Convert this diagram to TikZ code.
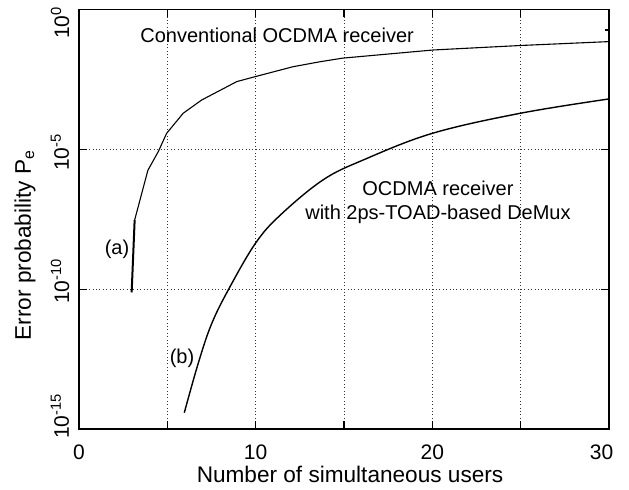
\documentclass[tikz,border=0pt]{standalone}
\usepackage{fontspec}
\setmainfont{Liberation Sans}
\usetikzlibrary{positioning}

\begin{document}
\begin{tikzpicture}[x=8.833pt, y=13.983pt,
  gridline/.style={line width=0.5pt, dash pattern=on 0.5pt off 1.2pt, black!80},
  axisline/.style={line width=0.6pt},
  ticklabel/.style={font=\fontsize{10.5}{12}\selectfont, inner sep=0pt},
  axislabel/.style={font=\fontsize{11.3}{13}\selectfont, inner sep=0pt},
  curvelabel/.style={font=\fontsize{10}{12}\selectfont, inner sep=0pt, align=center},
  curve/.style={line width=0.55pt, line join=round}]
  \useasboundingbox (-4.4716,-2.181) rectangle (31.132,15.338);

  % Grid (log10 of P_e shifted by 15)
  \foreach \gx in {5,10,...,25}
    \draw[gridline] (\gx,0) -- (\gx,15);
  \foreach \gy in {5,10}
    \draw[gridline] (0,\gy) -- (30,\gy);

  % Axes box and ticks
  \draw[axisline] (0,0) rectangle (30,15);
  \foreach \gx in {5,10,...,25} {
    \draw[axisline] (\gx,0) -- ++(0,0.275);
    \draw[axisline] (\gx,15) -- ++(0,-0.275);
  }
  \foreach \gy in {5,10} {
    \draw[axisline] (0,\gy) -- ++(0.436,0);
    \draw[axisline] (30,\gy) -- ++(-0.436,0);
  }
  \draw[axisline] (30,14.265) -- ++(-0.23,0);

  % Tick labels
  \node[ticklabel] (xt0) at (0,-0.822) {0};
  \node[ticklabel] (xt10) at (10,-0.822) {10};
  \node[ticklabel] (xt20) at (20,-0.822) {20};
  \node[ticklabel] (xt30) at (29.58,-0.822) {30};
  \node[ticklabel, rotate=90] (yt0) at (-1.075,14.533) {10\textsuperscript{0}};
  \node[ticklabel, rotate=90] (yt5) at (-1.075,9.904) {10\textsuperscript{-5}};
  \node[ticklabel, rotate=90] (yt10) at (-1.075,5.291) {10\textsuperscript{-10}};
  \node[ticklabel, rotate=90] (yt15) at (-1.075,0.465) {10\textsuperscript{-15}};

  % Axis labels
  \node[axislabel, anchor=base] (xlab) at (15.34,-1.931) {Number of simultaneous users};
  \node[axislabel, rotate=90] (ylab) at (-3.057,6.578) {Error probability P\textsubscript{e}};

  % (a) conventional receiver
  \draw[curve, line width=1pt] (2.98,4.88) -- (3.15,7.47);
  \draw[curve] (3.15,7.47) -- (3.9,9.25) -- (4.49,9.92) -- (4.96,10.57)
    -- (5.9,11.29) -- (6.94,11.76) -- (8.93,12.42) -- (9.87,12.58)
    -- (12.1,12.95) -- (13.64,13.13) -- (14.94,13.26) -- (20.04,13.55)
    -- (24.96,13.71) -- (30,13.85);

  % (b) receiver with TOAD DeMux
  \draw[curve, line width=0.7pt] plot[smooth, tension=0.6] coordinates {
    (5.96,0.58) (6.75,2.35) (7.5,3.75) (8.5,5.03) (10,6.65) (11.4,7.65)
    (13.8,8.9) (16.1,9.62) (20,10.57) (25,11.29) (30,11.80)};

  % Annotations
  \node[curvelabel, anchor=base west] (conv) at (3.453,13.81) {Conventional OCDMA receiver};
  \node[curvelabel] (toad) at (20.32,8.116) {OCDMA receiver\\with 2ps-TOAD-based DeMux};
  \node[curvelabel] (laba) at (2.151,6.436) {(a)};
  \node[curvelabel] (labb) at (5.830,2.538) {(b)};
\end{tikzpicture}
\end{document}
